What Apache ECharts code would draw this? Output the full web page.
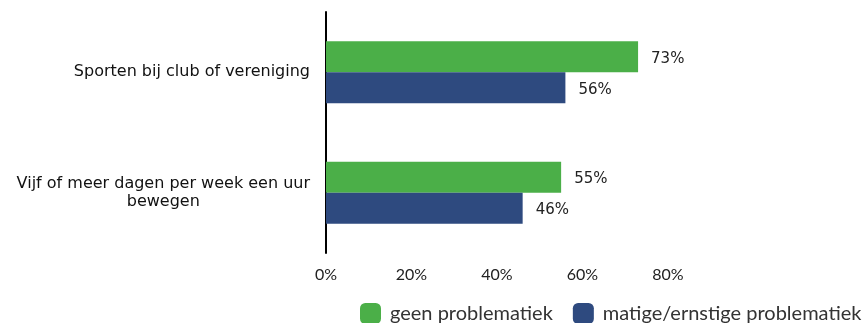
<!DOCTYPE html>
<html><head><meta charset="utf-8">
<script src="https://cdn.jsdelivr.net/npm/echarts@6/dist/echarts.min.js"></script>
<style>html,body{margin:0;padding:0;background:#fff}#c{width:865px;height:323px}</style>
</head><body><div id="c"></div>
<script>
const categories = ['Sporten bij club of vereniging', 'Vijf of meer dagen per week een uur\nbewegen'];
const seriesNames = ['geen problematiek', 'matige/ernstige problematiek'];
const geenValues = [73, 55];
const matigeValues = [56, 46];
const tickValues = [0, 20, 40, 60, 80];

const chart = echarts.init(document.getElementById('c'));
chart.setOption({
  animation: false,
  grid: { left: 326, right: 197, top: 12, bottom: 70 },
  legend: {
    left: 360, top: 303, width: 520, padding: 0,
    itemWidth: 21, itemHeight: 21, itemGap: 20,
    icon: 'path://M5,0 H15 A5,5 0 0 1 20,5 V15 A5,5 0 0 1 15,20 H5 A5,5 0 0 1 0,15 V5 A5,5 0 0 1 5,0 Z',
    textStyle: { fontFamily: 'Lato', fontSize: 20, color: '#333', padding: [0, 0, 0, 4] },
    data: seriesNames
  },
  xAxis: {
    type: 'value', min: 0, max: 80, interval: 20,
    axisLine: { show: false }, axisTick: { show: false }, splitLine: { show: false },
    axisLabel: { formatter: v => v + '%', fontFamily: 'Lato', fontSize: 16, color: '#222', margin: 14 }
  },
  yAxis: {
    type: 'category', inverse: true, data: categories,
    axisLine: { show: true, lineStyle: { color: '#000', width: 2 } },
    axisTick: { show: false },
    axisLabel: {
      margin: 16,
      formatter: v => v.split('\n').map(s => '{a|' + s + '}').join('\n'),
      rich: { a: { fontFamily: 'DejaVu Sans', fontSize: 16, color: '#111', align: 'center', lineHeight: 18 } }
    }
  },
  series: [
    { name: seriesNames[0], type: 'bar', data: geenValues, barWidth: 31, barGap: '0%',
      itemStyle: { color: '#4BAF48' },
      label: { show: true, position: 'right', distance: 13, formatter: '{c}%', fontFamily: 'DejaVu Sans', fontSize: 15, color: '#222', offset: [0, 2] } },
    { name: seriesNames[1], type: 'bar', data: matigeValues, barWidth: 31, barGap: '0%',
      itemStyle: { color: '#2E4A7F' },
      label: { show: true, position: 'right', distance: 13, formatter: '{c}%', fontFamily: 'DejaVu Sans', fontSize: 15, color: '#222', offset: [0, 2] } }
  ]
});
</script></body></html>
